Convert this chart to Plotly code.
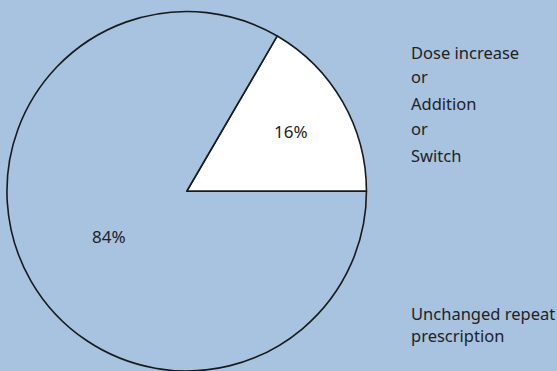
import plotly.graph_objects as go

categories = ["Dose increase or Addition or Switch", "Unchanged repeat prescription"]
values = [16.6, 83.4]
slice_colors = ["#ffffff", "#a7c3df"]
pct_labels = ["16%", "84%"]
label_lines_a = ["Dose increase", "or", "Addition", "or", "Switch"]
label_lines_b = ["Unchanged repeat", "prescription"]

BG = "#a7c3df"
FONT = "Noto Sans, Open Sans, sans-serif"

fig = go.Figure()
fig.add_trace(go.Pie(
    labels=categories,
    values=values,
    text=pct_labels,
    textinfo="text",
    textposition="inside",
    insidetextorientation="horizontal",
    sort=False,
    direction="counterclockwise",
    rotation=90 - 360 * values[0] / sum(values),
    marker=dict(colors=slice_colors, line=dict(color="#1a1a1a", width=1.6)),
    textfont=dict(family=FONT, size=17, color="#222222"),
    domain=dict(x=[6.7/557, 366.7/557], y=[0.0, 0.969]),
    showlegend=False,
    hoverinfo="label+percent",
))

ys_a = [52, 77, 103, 129, 155]
for t, y in zip(label_lines_a, ys_a):
    fig.add_annotation(x=409/557, y=1 - y/371, xref="paper", yref="paper",
                       text=t, showarrow=False, xanchor="left", yanchor="middle",
                       font=dict(family=FONT, size=16.5, color="#222222"))
ys_b = [313, 335]
for t, y in zip(label_lines_b, ys_b):
    fig.add_annotation(x=409/557, y=1 - y/371, xref="paper", yref="paper",
                       text=t, showarrow=False, xanchor="left", yanchor="middle",
                       font=dict(family=FONT, size=16.5, color="#222222"))

fig.update_layout(
    width=557, height=371,
    margin=dict(l=0, r=0, t=0, b=0),
    paper_bgcolor=BG, plot_bgcolor=BG,
)
fig.write_html("out.html")
